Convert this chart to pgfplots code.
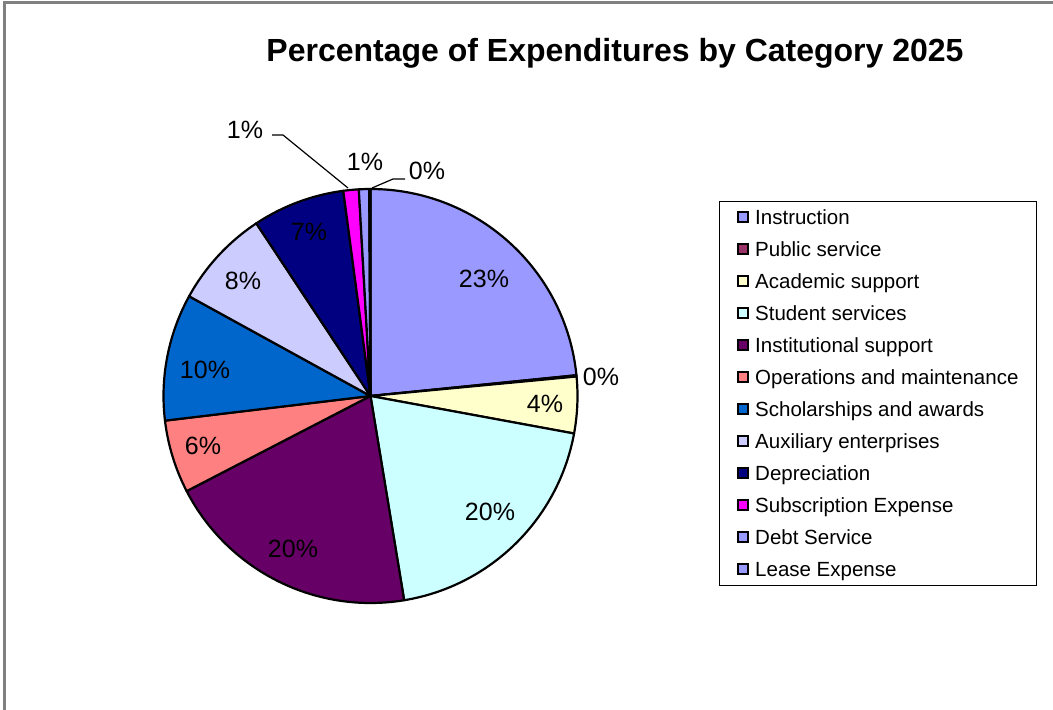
\documentclass[border=0pt]{standalone}
\usepackage{pgfplots}
\pgfplotsset{compat=1.18}
\usepackage{fontspec}
\setmainfont{Liberation Sans}
\definecolor{cInstr}{HTML}{9999FF}
\definecolor{cPub}{HTML}{993366}
\definecolor{cAcad}{HTML}{FFFFCC}
\definecolor{cStud}{HTML}{CCFFFF}
\definecolor{cInst}{HTML}{660066}
\definecolor{cOper}{HTML}{FF8080}
\definecolor{cSchol}{HTML}{0066CC}
\definecolor{cAux}{HTML}{CCCCFF}
\definecolor{cDep}{HTML}{000080}
\definecolor{cSub}{HTML}{FF00FF}
\definecolor{cDebt}{HTML}{9999FF}
\definecolor{cLease}{HTML}{9999FF}
\definecolor{frame}{HTML}{808080}
% slice: cumulative start %, cumulative end %, colour
\newcommand\slice[3]{\filldraw[fill=#3,draw=black,line width=2.2pt,line join=round]
  (axis cs:370.5,314) -- ++({90-3.6*#1}:207pt)
  arc[start angle={90-3.6*#1}, end angle={90-3.6*#2}, radius=207pt] -- cycle;}
\newcommand\pct{\fontsize{25}{30}\selectfont}
\begin{document}
\begin{tikzpicture}
\useasboundingbox (0,0) rectangle (1053pt,710pt);
\begin{axis}[at={(0,0)}, anchor=south west,
  width=1053pt, height=710pt, scale only axis,
  xmin=0, xmax=1053, ymin=0, ymax=710,
  hide axis, clip=false,
  legend cell align=left,
  legend image code/.code={\draw[#1,draw=black,line width=1.8pt] (0pt,-5pt) rectangle (10pt,5pt);},
  legend style={at={(axis cs:719,509)}, anchor=north west, draw=black, line width=0.8pt,
    inner xsep=18pt, inner ysep=7pt, row sep=14pt,
    font=\fontsize{20.5}{24}\selectfont,
    nodes={inner sep=0pt, text height=16pt, text depth=2pt},
    /tikz/column 1/.style={column sep=6pt}},
]
% frame
\draw[frame, line width=3pt] (axis cs:4.5,0) -- (axis cs:4.5,707) -- (axis cs:1053,707);
% title
\node[font=\fontsize{32}{38}\selectfont\bfseries] at (axis cs:615,657) {Percentage of Expenditures by Category 2025};
% slices (percent of total)
\slice{0}{23.4}{cInstr}
\slice{23.4}{23.5}{cPub}
\slice{23.5}{27.9}{cAcad}
\slice{27.9}{47.4}{cStud}
\slice{47.4}{67.4}{cInst}
\slice{67.4}{73.1}{cOper}
\slice{73.1}{83.0}{cSchol}
\slice{83.0}{90.7}{cAux}
\slice{90.7}{97.9}{cDep}
\slice{97.9}{99.1}{cSub}
\slice{99.1}{99.9}{cDebt}
\slice{99.9}{100}{cLease}
% data labels
\node[font=\pct] at (axis cs:484,431) {23\%};
\node[font=\pct] at (axis cs:601,333) {0\%};
\node[font=\pct] at (axis cs:545,306) {4\%};
\node[font=\pct] at (axis cs:490,198) {20\%};
\node[font=\pct] at (axis cs:293,161) {20\%};
\node[font=\pct] at (axis cs:203,264) {6\%};
\node[font=\pct] at (axis cs:205,340) {10\%};
\node[font=\pct] at (axis cs:243,429) {8\%};
\node[font=\pct] at (axis cs:309,478) {7\%};
\node[font=\pct] at (axis cs:245,580) {1\%};
\node[font=\pct] at (axis cs:365,548) {1\%};
\node[font=\pct] at (axis cs:427,539) {0\%};
\draw[black, line width=1.2pt] (axis cs:272,575) -- (axis cs:283,575) -- (axis cs:348,522);
\draw[black, line width=1.2pt] (axis cs:405,531) -- (axis cs:393,531) -- (axis cs:372,522);
% legend
\addlegendimage{fill=cInstr}\addlegendentry{Instruction}
\addlegendimage{fill=cPub}\addlegendentry{Public service}
\addlegendimage{fill=cAcad}\addlegendentry{Academic support}
\addlegendimage{fill=cStud}\addlegendentry{Student services}
\addlegendimage{fill=cInst}\addlegendentry{Institutional support}
\addlegendimage{fill=cOper}\addlegendentry{Operations and maintenance}
\addlegendimage{fill=cSchol}\addlegendentry{Scholarships and awards}
\addlegendimage{fill=cAux}\addlegendentry{Auxiliary enterprises}
\addlegendimage{fill=cDep}\addlegendentry{Depreciation}
\addlegendimage{fill=cSub}\addlegendentry{Subscription Expense}
\addlegendimage{fill=cDebt}\addlegendentry{Debt Service}
\addlegendimage{fill=cLease}\addlegendentry{Lease Expense}
\end{axis}
\end{tikzpicture}
\end{document}
